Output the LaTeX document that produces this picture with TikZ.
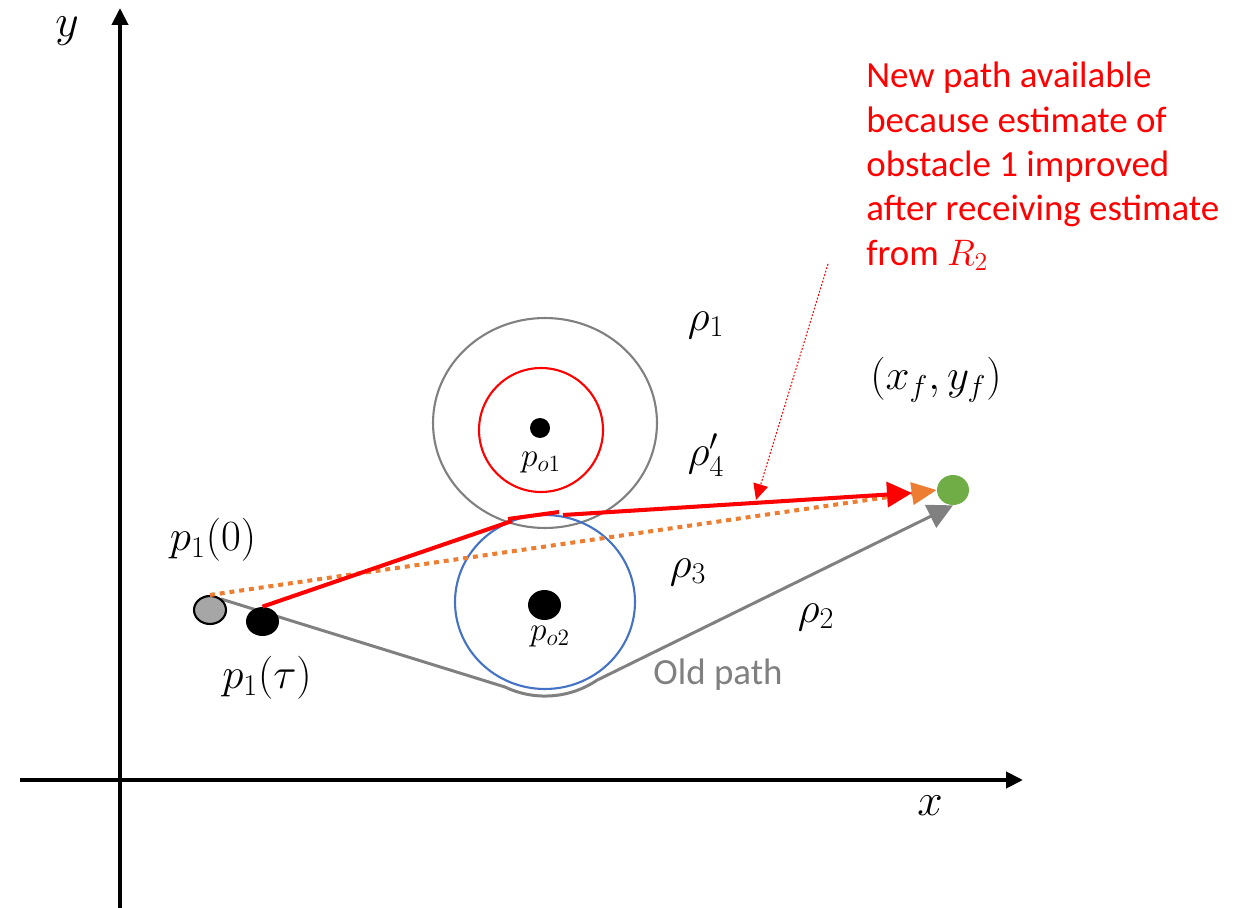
\documentclass[tikz,border=0pt]{standalone}
\usepackage{fix-cm}
\usepackage{fontspec}
\setmainfont{Carlito}
\usetikzlibrary{arrows.meta,shapes.geometric}
\definecolor{myred}{HTML}{FF0000}
\definecolor{myorange}{HTML}{ED7D31}
\definecolor{mygray}{HTML}{808080}
\definecolor{dotgray}{HTML}{A6A6A6}
\definecolor{mygreen}{HTML}{70AD47}
\definecolor{myblue}{HTML}{4472C4}
\begin{document}
\begin{tikzpicture}[x=0.02cm,y=-0.02cm,
  axis/.style={line width=2.3pt,-{Triangle[length=0.34cm,width=0.32cm]}},
  obst/.style={ellipse,inner sep=0pt,line width=1.2pt},
  blob/.style={ellipse,inner sep=0pt},
  oldpath/.style={draw=mygray,line width=1.7pt,-{Triangle[length=0.5cm,width=0.5cm]}},
  newdot/.style={draw=myorange,line width=2.3pt,dash pattern=on 2.8pt off 2.8pt,-{Triangle[length=0.5cm,width=0.44cm]}},
  newpath/.style={draw=myred,line width=2.3pt},
  annot/.style={draw=myred,line width=0.6pt,dash pattern=on 1pt off 1pt,-{Triangle[length=0.32cm,width=0.3cm]}},
  biglab/.style={font=\fontsize{26}{30}\selectfont,inner sep=0pt},
  lab/.style={font=\fontsize{24.5}{28}\selectfont},
  smalllab/.style={font=\fontsize{19}{22}\selectfont}
]
\useasboundingbox (0,0) rectangle (1253,908);

% axes
\coordinate (yb) at (120,908);
\coordinate (yt) at (120,8);
\coordinate (xl) at (20,780);
\coordinate (xr) at (1023,780);
\draw[axis] (yb) -- (yt);
\draw[axis] (xl) -- (xr);
\node[biglab] (ylab) at (67,31) {$y$};
\node[biglab] (xlab) at (930,806) {$x$};

% obstacles
\node[obst,draw=mygray,minimum width=4.48cm,minimum height=4.2cm] (c1out) at (545,423) {};
\node[obst,draw=myred,minimum width=2.48cm,minimum height=2.48cm] (c1in) at (541,430) {};
\node[obst,draw=myblue,minimum width=3.6cm,minimum height=3.48cm] (c2) at (545,602) {};

% dots
\node[blob,fill=black,minimum width=0.4cm,minimum height=0.4cm] (po1) at (540,428) {};
\node[blob,fill=black,minimum width=0.66cm,minimum height=0.6cm] (po2) at (544.5,605) {};
\node[blob,fill=mygreen,minimum width=0.64cm,minimum height=0.6cm] (goal) at (953,490) {};

% old path
\coordinate (s0) at (221,599);
\coordinate (g1) at (505,687);
\draw[oldpath] (s0) -- (g1) arc[start angle=244.5,end angle=304,radius=1.86cm] -- (goal.south);

% orange dotted path
\node[blob,fill=dotgray,draw=black,line width=1.2pt,minimum width=0.64cm,minimum height=0.56cm] (p10) at (210,610) {};
\draw[newdot] (p10.north) -- (goal.west);

% red new path
\node[blob,fill=black,minimum width=0.66cm,minimum height=0.58cm] (ptau) at (262.5,621.5) {};
\coordinate (r1) at (512,521);
\coordinate (r2) at (508,519);
\coordinate (r3) at (559,512);
\coordinate (r4) at (563,515);
\coordinate (r5) at (912,493);
\draw[newpath] (ptau.north) -- (r1);
\draw[newpath] (r2) -- (r3);
\draw[newpath,-{Triangle[length=0.5cm,width=0.5cm]}] (r4) -- (r5);

% annotation
\node[anchor=north west,align=left,text=myred,inner sep=0pt,font=\fontsize{21}{25.2}\selectfont] (note) at (866,62)
  {New path available\\because estimate of\\obstacle 1 improved\\after receiving estimate\\from $R_2$};
\coordinate (ann) at (828,264);
\coordinate (r6) at (756,500);
\draw[annot] (ann) -- (r6);

% labels
\node[lab] (l10) at (213,540) {$p_1(0)$};
\node[lab] (ltau) at (267,678) {$p_1(\tau)$};
\node[lab] (rho1) at (706,325) {$\rho_1$};
\node[lab] (rho4) at (706,455) {$\rho'_4$};
\node[lab] (rho3) at (688,572) {$\rho_3$};
\node[lab] (rho2) at (816,617) {$\rho_2$};
\node[lab] (xf) at (936,380) {$(x_f,y_f)$};
\node[smalllab] (lpo1) at (541,463) {$p_{o1}$};
\node[smalllab] (lpo2) at (550,637) {$p_{o2}$};
\node[text=mygray,font=\fontsize{21}{25}\selectfont] (oldlab) at (718,675) {Old path};
\end{tikzpicture}
\end{document}
